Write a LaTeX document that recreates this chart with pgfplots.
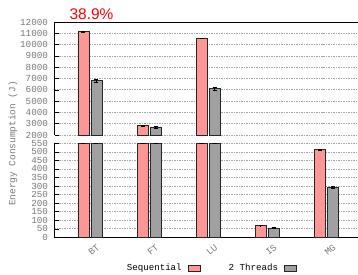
\documentclass[border=0pt]{standalone}
\usepackage{pgfplots}
\usepackage{pgfplotstable}
\pgfplotsset{compat=1.18}
\usepackage{fontspec}
\setmainfont{Liberation Mono}
\newfontfamily\sansf{Liberation Sans}
\definecolor{seqc}{RGB}{255,150,150}
\definecolor{thrc}{RGB}{160,160,160}
\definecolor{labc}{RGB}{120,120,120}

\pgfplotstableread{
x y e
0 11150 40
1 2820 40
2 10550 40
}\topseq
\pgfplotstableread{
x y e
0 6800 160
1 2670 50
2 6080 110
}\topthr
\pgfplotstableread{
x y e
0 550 0
1 550 0
2 550 0
3 68 1
4 513 4
}\botseq
\pgfplotstableread{
x y e
0 550 0
1 550 0
2 550 0
3 55 2
4 294 5
}\botthr

\pgfplotsset{
  common/.style={
    scale only axis,
    width=307.3bp,
    xmin=-0.6, xmax=4.6,
    ybar,
    bar width=11bp,
    axis line style={-, black, line width=0.7pt},
    ymajorgrids,
    major grid style={gray!70, line width=0.6pt, dash pattern=on 1.5pt off 1pt},
    tick style={black, line width=0.5pt},
    major tick length=4bp,
    tick align=inside,
    ytick pos=left,
    scaled y ticks=false,
    /pgf/number format/assume math mode=true,
    /pgf/number format/1000 sep={},
    tick label style={font=\fontsize{9.3}{10}\selectfont, text=labc},
    yticklabel style={xshift=-3bp},
    every axis plot/.append style={draw=black!85, line width=0.8pt},
    error bars/error bar style={black, line width=0.8pt},
    error bars/error mark options={rotate=90, mark size=2bp, black, line width=0.8pt},
  },
}

\begin{document}
\begin{tikzpicture}
% top panel
\begin{axis}[common,
  at={(54.5bp,140bp)}, anchor=south west,
  height=113bp,
  ymin=2000, ymax=12000,
  ytick={2000,3000,4000,5000,6000,7000,8000,9000,10000,11000,12000},
  yticklabels={2000,3000,4000,5000,6000,7000,8000,9000,10000,11000,12000},
  y coord trafo/.code={\pgfmathparse{#1-2000}},
  y coord inv trafo/.code={\pgfmathparse{#1+2000}},
  axis x line*=top, axis y line*=left,
  xtick=\empty,
  clip=false,
]
\addplot[fill=seqc, bar shift=-6.5bp, error bars/.cd, y dir=both, y explicit] table[x=x, y=y, y error=e]{\topseq};
\addplot[fill=thrc, bar shift=6.5bp, error bars/.cd, y dir=both, y explicit] table[x=x, y=y, y error=e]{\topthr};
\end{axis}
% bottom panel
\begin{axis}[common,
  at={(54.5bp,37.7bp)}, anchor=south west,
  height=94bp,
  ymin=0, ymax=550,
  ytick={0,50,...,550},
  axis x line*=bottom, axis y line*=left,
  xtick={0,1,2,3,4},
  xticklabels={BT,FT,LU,IS,MG},
  x tick style={draw=none},
  xticklabel style={rotate=40, anchor=center, yshift=-12bp, xshift=-5bp},
  clip=false,
  legend style={at={(axis description cs:0.228,-0.327)}, anchor=west, draw=none, fill=none,
    legend columns=2, font=\fontsize{9.2}{10}\selectfont,
    /tikz/column 1/.style={column sep=4bp},
    /tikz/column 2/.style={column sep=26bp},
    /tikz/column 3/.style={column sep=4bp},
    inner sep=0pt},
  legend plot pos=right,
  legend image code/.code={\draw[#1, line width=0.8pt, draw=black!85] (0bp,-3bp) rectangle (12bp,3bp);},
]
\addplot[fill=seqc, bar shift=-6.5bp, error bars/.cd, y dir=both, y explicit] table[x=x, y=y, y error=e]{\botseq};
\addlegendentry{Sequential}
\addplot[fill=thrc, bar shift=6.5bp, error bars/.cd, y dir=both, y explicit] table[x=x, y=y, y error=e]{\botthr};
\addlegendentry{2 Threads}
\end{axis}
\node[text=red, font=\sansf\fontsize{15.5}{16}\selectfont, inner sep=0pt] at (91.5bp,261bp) {38.9\%};
\node[rotate=90, text=labc, font=\fontsize{9.5}{10}\selectfont, inner sep=0pt] at (13bp,131.5bp) {Energy Consumption (J)};
\pgfresetboundingbox
\useasboundingbox (0,0) rectangle (358bp,275bp);
\end{tikzpicture}
\end{document}
